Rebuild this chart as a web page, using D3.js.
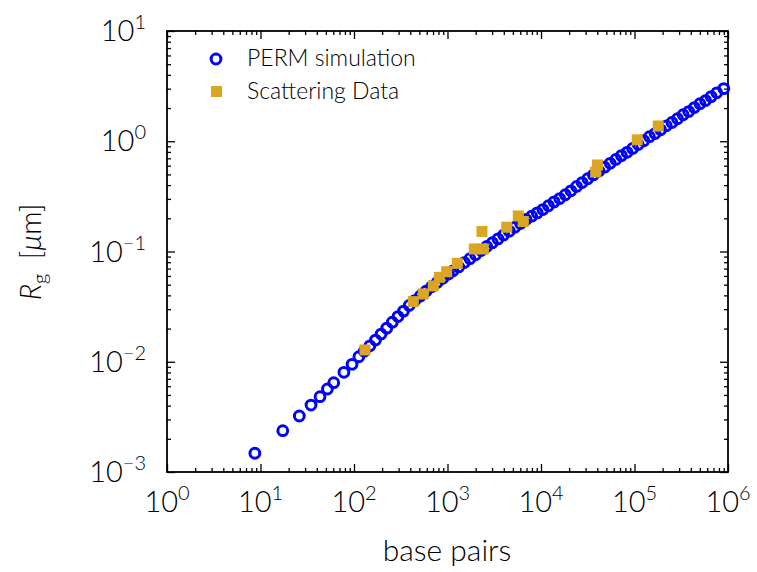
<!DOCTYPE html>
<html>
<head>
<meta charset="utf-8">
<script src="https://cdn.jsdelivr.net/npm/d3@7"></script>
<style>
  body { margin: 0; background: #fff; }
  svg { display: block; }
</style>
</head>
<body>
<div id="chart"></div>
<script>
const WIDTH = 757;
const HEIGHT = 572;
const PLOT = { left: 167, right: 728, top: 31, bottom: 472 };
const FONT = "Lato, 'Open Sans', sans-serif";

// PERM simulation (base pairs, Rg in um)
const permBp = [8.7, 17.3, 26, 34.7, 43.3, 52, 60.7, 78, 95.3, 112.7,
  128.8, 147.9, 169.8, 195, 223.9, 257, 295.1, 338.8, 389, 446.7, 512.9,
  588.8, 676.1, 776.2, 891.3, 1023, 1148, 1318,
  1514, 1738, 1995, 2291, 2630, 3020, 3467, 3981, 4571, 5248, 6026, 6918,
  7943, 9120, 10470, 12020, 13800, 15850, 18200, 20890, 23990, 27540, 31620,
  36310, 41690, 47860, 54950, 63100, 72440, 83180, 95500, 109600, 125900,
  144500, 166000, 190500, 218800, 251200, 288400, 331100, 380200, 436500,
  501200, 575400, 660700, 758600, 901000];
const permRg = [0.00148, 0.00237, 0.00322, 0.00405, 0.00482, 0.00566, 0.00646,
  0.00802, 0.00948, 0.0111, 0.01247, 0.01396, 0.01574, 0.01782, 0.02018,
  0.02286, 0.0257, 0.0288, 0.0324, 0.0359, 0.0395, 0.0436, 0.0479, 0.0524,
  0.0571, 0.0625, 0.0668, 0.0724, 0.0794,
  0.0861, 0.0933, 0.102, 0.111, 0.120, 0.130, 0.141, 0.153, 0.166, 0.180,
  0.195, 0.209, 0.224, 0.240, 0.260, 0.282, 0.302, 0.327, 0.355, 0.389,
  0.422, 0.457, 0.495, 0.537, 0.582, 0.631, 0.684, 0.741, 0.794, 0.861,
  0.933, 1.01, 1.10, 1.175, 1.27, 1.38, 1.48, 1.60, 1.74, 1.86, 2.02, 2.19,
  2.34, 2.54, 2.75, 3.0];

// Scattering data
const scatBp = [131, 431, 551, 705, 817, 980, 1273, 1935, 2417, 2337, 4300,
  5716, 6468, 40200, 38500, 107000, 179500];
const scatRg = [0.0128, 0.0351, 0.0412, 0.0487, 0.0583, 0.0656, 0.0781,
  0.1054, 0.1054, 0.152, 0.166, 0.210, 0.187, 0.609, 0.526, 1.03, 1.375];

const xExps = [0, 1, 2, 3, 4, 5, 6];
const yExps = [-3, -2, -1, 0, 1];

const perm = permBp.map((b, i) => ({ bp: b, rg: permRg[i] }));
const scat = scatBp.map((b, i) => ({ bp: b, rg: scatRg[i] }));

const svg = d3.select("#chart").append("svg")
  .attr("width", WIDTH)
  .attr("height", HEIGHT)
  .style("background-color", "#fff");

const x = d3.scaleLog().domain([1, 1e6]).range([PLOT.left, PLOT.right]);
const y = d3.scaleLog().domain([1e-3, 10]).range([PLOT.bottom, PLOT.top]);

const minors = (exps) => {
  const out = [];
  for (let e = exps[0]; e < exps[exps.length - 1]; e++) {
    for (let k = 2; k <= 9; k++) out.push(k * Math.pow(10, e));
  }
  return out;
};
const xMajor = xExps.map(e => Math.pow(10, e));
const yMajor = yExps.map(e => Math.pow(10, e));

function tickAxis(axisFn, scale, values, size, transform) {
  const g = svg.append("g")
    .attr("transform", transform)
    .call(axisFn(scale).tickValues(values).tickSizeInner(-size).tickSizeOuter(0).tickFormat(""));
  g.select(".domain").remove();
  g.selectAll("line").attr("stroke", "#000").attr("stroke-width", 1.3);
}

// inward ticks on all four sides
tickAxis(d3.axisBottom, x, xMajor, 8, `translate(0,${PLOT.bottom})`);
tickAxis(d3.axisBottom, x, minors(xExps), 4, `translate(0,${PLOT.bottom})`);
tickAxis(d3.axisTop, x, xMajor, 8, `translate(0,${PLOT.top})`);
tickAxis(d3.axisTop, x, minors(xExps), 4, `translate(0,${PLOT.top})`);
tickAxis(d3.axisLeft, y, yMajor, 8, `translate(${PLOT.left},0)`);
tickAxis(d3.axisLeft, y, minors(yExps), 4, `translate(${PLOT.left},0)`);
tickAxis(d3.axisRight, y, yMajor, 8, `translate(${PLOT.right},0)`);
tickAxis(d3.axisRight, y, minors(yExps), 4, `translate(${PLOT.right},0)`);

svg.append("rect")
  .attr("x", PLOT.left)
  .attr("y", PLOT.top)
  .attr("width", PLOT.right - PLOT.left)
  .attr("height", PLOT.bottom - PLOT.top)
  .attr("fill", "none")
  .attr("stroke", "#000")
  .attr("stroke-width", 1.8);

// tick labels 10^n
function powLabel(sel, e) {
  sel.append("tspan").text("10");
  sel.append("tspan")
    .attr("dy", -12)
    .attr("font-size", 20)
    .text(e < 0 ? "\u2212" + (-e) : String(e));
}

svg.append("g").selectAll("text")
  .data(xExps)
  .join("text")
    .attr("x", d => x(Math.pow(10, d)))
    .attr("y", 512)
    .attr("text-anchor", "middle")
    .attr("font-family", FONT)
    .attr("font-weight", 300)
    .attr("font-size", 29)
    .attr("fill", "#000")
    .each(function (d) { powLabel(d3.select(this), d); });

svg.append("g").selectAll("text")
  .data(yExps)
  .join("text")
    .attr("x", 146)
    .attr("y", d => y(Math.pow(10, d)) + 10)
    .attr("text-anchor", "end")
    .attr("font-family", FONT)
    .attr("font-weight", 300)
    .attr("font-size", 29)
    .attr("fill", "#000")
    .each(function (d) { powLabel(d3.select(this), d); });

// axis titles
svg.append("text")
  .attr("x", 447)
  .attr("y", 561)
  .attr("text-anchor", "middle")
  .attr("font-family", FONT)
  .attr("font-weight", 300)
  .attr("font-size", 30)
  .attr("fill", "#000")
  .text("base pairs");

const yt = svg.append("text")
  .attr("transform", "translate(41,252) rotate(-90)")
  .attr("text-anchor", "middle")
  .attr("font-family", FONT)
  .attr("font-weight", 300)
  .attr("font-size", 29)
  .attr("fill", "#000");
yt.append("tspan").attr("font-style", "italic").text("R");
yt.append("tspan").attr("font-size", 20).attr("dy", 6).text("g");
yt.append("tspan").attr("dy", -6).text("\u2002[");
yt.append("tspan").attr("font-style", "italic").text("\u03bc");
yt.append("tspan").text("m]");

// data
svg.append("g").selectAll("circle")
  .data(perm)
  .join("circle")
    .attr("cx", d => x(d.bp))
    .attr("cy", d => y(d.rg))
    .attr("r", 4.9)
    .attr("fill", "none")
    .attr("stroke", "#0000ff")
    .attr("stroke-width", 3);

svg.append("g").selectAll("rect")
  .data(scat)
  .join("rect")
    .attr("x", d => x(d.bp) - 5.5)
    .attr("y", d => y(d.rg) - 5.5)
    .attr("width", 11)
    .attr("height", 11)
    .attr("fill", "#daa520");

// legend
const leg = svg.append("g");
leg.append("circle")
  .attr("cx", 216).attr("cy", 59).attr("r", 4.9)
  .attr("fill", "none").attr("stroke", "#0000ff").attr("stroke-width", 3);
leg.append("rect")
  .attr("x", 211).attr("y", 86).attr("width", 11).attr("height", 11)
  .attr("fill", "#daa520");
leg.append("text")
  .attr("x", 247).attr("y", 66)
  .attr("font-family", FONT).attr("font-weight", 300)
  .attr("font-size", 23).attr("fill", "#000")
  .text("PERM simulation");
leg.append("text")
  .attr("x", 247).attr("y", 99)
  .attr("font-family", FONT).attr("font-weight", 300)
  .attr("font-size", 23).attr("fill", "#000")
  .text("Scattering Data");
</script>
</body>
</html>
